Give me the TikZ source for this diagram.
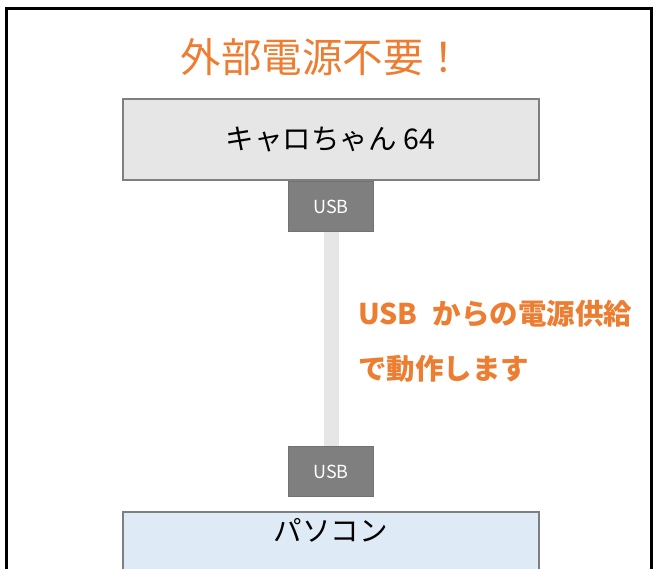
\documentclass[tikz,border=0pt]{standalone}
\usepackage{fontspec}
\setmainfont{Noto Sans CJK JP}
\definecolor{boxgray}{HTML}{E7E6E6}
\definecolor{edgegray}{HTML}{7F7F7F}
\definecolor{usbgray}{HTML}{7F7F7F}
\definecolor{pcblue}{HTML}{DEEBF7}
\definecolor{accent}{HTML}{ED7D31}
\tikzset{
  x=1pt, y=1pt,
  devbox/.style={draw=edgegray, line width=2pt, minimum width=416pt, inner sep=0pt, font=\fontsize{28.5}{31}\selectfont},
  usbbox/.style={draw=edgegray!90!black, fill=usbgray, line width=1pt, minimum width=85pt, minimum height=50pt, inner sep=0pt, text=white, font=\fontsize{18}{20}\selectfont},
  cable/.style={line width=15pt, draw=boxgray},
  note/.style={text=accent, anchor=west, inner sep=0pt, font=\fontsize{28.5}{30}\selectfont\bfseries},
}
\begin{document}
\begin{tikzpicture}
\useasboundingbox (0,0) rectangle (656,-569);
\clip (0,0) rectangle (656,-569);
\fill[white] (0,0) rectangle (656,-569);
\draw[line width=2.5pt] (6.5,-620) -- (6.5,-8.5) -- (651.5,-8.5) -- (651.5,-620);
\node[text=accent, font=\fontsize{40.5}{44}\selectfont, inner sep=0pt] (title) at (322.5,-57) {外部電源不要！};
\node[devbox, fill=boxgray, minimum height=81pt] (dev) at (330.5,-140) {キャロちゃん 64};
\node[usbbox, anchor=north] (usb1) at (331,-181) {USB};
\node[usbbox, anchor=north] (usb2) at (331,-446) {USB};
\draw[cable] (usb1.south) -- (usb2.north);
\node[devbox, fill=pcblue, minimum height=130pt, anchor=north] (pc) at (330.5,-511) {};
\node[inner sep=0pt, font=\fontsize{28.5}{31}\selectfont] (pclabel) at (330.5,-530) {パソコン};
\node[note] (n1) at (358,-314) {USB\hspace{15pt}からの電源供給};
\node[note] (n2) at (358,-369) {で動作します};
\end{tikzpicture}
\end{document}
